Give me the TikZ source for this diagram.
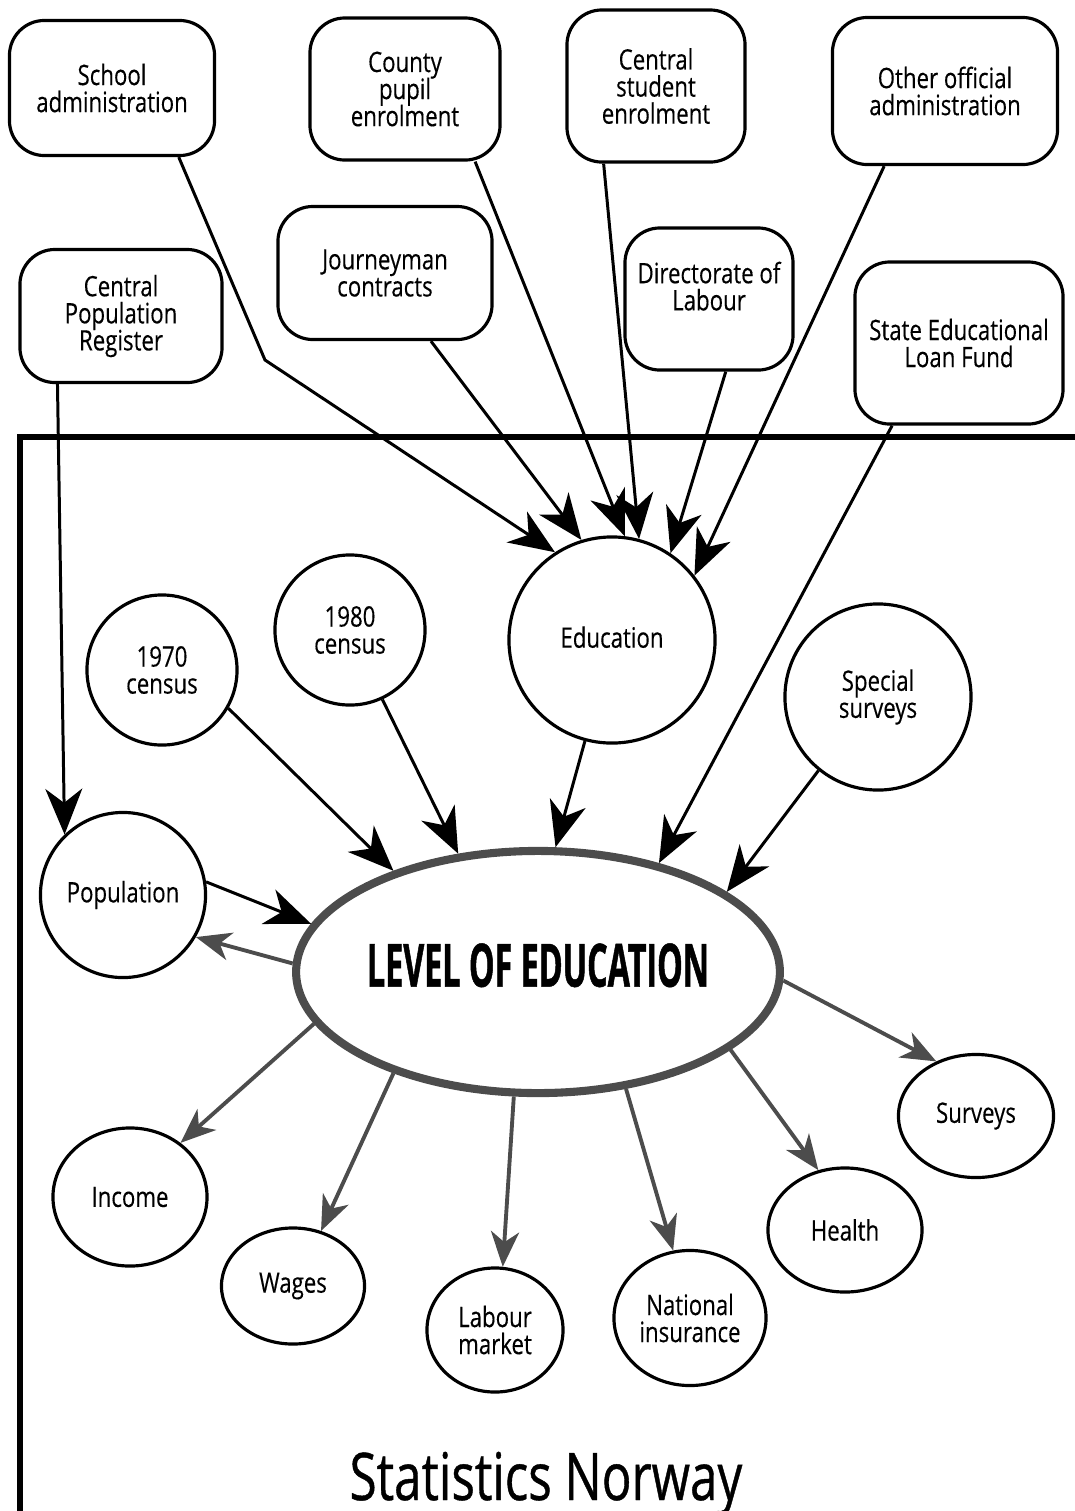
\documentclass[tikz,border=0pt]{standalone}
\usepackage{fontspec}
\usepackage{graphicx}
\setmainfont{Open Sans}
\newfontfamily\labelfont[FakeStretch=0.79, FakeBold=0.3]{Open Sans}
\newfontfamily\headfont[FakeStretch=0.54, FakeBold=0.8]{Open Sans}
\newfontfamily\footfont[FakeStretch=0.75, FakeBold=0.6]{Open Sans}
\usetikzlibrary{positioning, arrows.meta, shapes.geometric}
\lineskiplimit=-10pt

\begin{document}
\begin{tikzpicture}[x=0.01cm, y=-0.01cm, >=Stealth,
    every node/.style={font={\labelfont\fontsize{8}{7.7}\selectfont\lineskiplimit=-10pt\relax}, align=center},
    regbox/.style={draw, line width=0.9pt, rounded corners=0.35cm, inner sep=0pt},
    inbubble/.style={draw, line width=0.9pt, circle, inner sep=0pt},
    outbubble/.style={draw, line width=0.9pt, ellipse, inner sep=0pt},
    feed/.style={->, line width=0.85pt, >={Stealth[length=13pt, width=10.5pt, inset=4pt]}},
    spread/.style={->, line width=1.1pt, black!70, >={Stealth[length=10pt, width=8pt, inset=3pt]}}]
    \useasboundingbox (0,0) rectangle (1075,1511);

    % Registers
    \node[regbox, minimum width=2.05cm, minimum height=1.35cm] (school) at (112,88) {School\\administration};
    \node[regbox, minimum width=1.9cm, minimum height=1.42cm] (county) at (405,89) {County\\pupil\\enrolment};
    \node[regbox, minimum width=1.78cm, minimum height=1.52cm] (student) at (656,86) {Central\\student\\enrolment};
    \node[regbox, minimum width=2.25cm, minimum height=1.47cm] (official) at (945,91) {Other official\\administration};
    \node[regbox, minimum width=2.02cm, minimum height=1.33cm] (cpr) at (121,316) {Central\\Population\\Register};
    \node[regbox, minimum width=2.14cm, minimum height=1.33cm] (journey) at (385,273) {Journeyman\\contracts};
    \node[regbox, minimum width=1.68cm, minimum height=1.42cm, text depth=0.26cm] (labour) at (709,299) {Directorate of\\Labour};
    \node[regbox, minimum width=2.08cm, minimum height=1.62cm] (loan) at (959,343) {State Educational\\Loan Fund};

    % Statistics Norway frame
    \draw[line width=1.7pt] (1075,437) -- (20,437) -- (20,1511);

    % Sources inside
    \node[inbubble, minimum size=1.5cm] (c70) at (162,670) {1970\\census};
    \node[inbubble, minimum size=1.5cm] (c80) at (350,630) {1980\\census};
    \node[inbubble, minimum size=2.06cm] (edu) at (612,640) {\raisebox{0.06cm}{Education}};
    \node[inbubble, minimum size=1.86cm] (special) at (878,697) {Special\\surveys};
    \node[inbubble, minimum size=1.65cm] (pop) at (123,895) {Population};

    % Level of education
    \node[ellipse, draw=black!70, line width=2.3pt, inner sep=0pt, minimum width=4.82cm, minimum height=2.42cm,
      font=\headfont\bfseries\fontsize{17}{17}\selectfont] (level) at (538,972) {\raisebox{0.14cm}{LEVEL OF EDUCATION}};

    % Uses
    \node[outbubble, minimum width=1.54cm, minimum height=1.38cm] (income) at (130,1197) {Income};
    \node[outbubble, minimum width=1.43cm, minimum height=1.16cm] (wages) at (293,1286) {Wages};
    \node[outbubble, minimum width=1.36cm, minimum height=1.24cm] (market) at (495,1330) {Labour\\market};
    \node[outbubble, minimum width=1.52cm, minimum height=1.35cm] (insurance) at (690,1318) {National\\insurance};
    \node[outbubble, minimum width=1.54cm, minimum height=1.24cm] (health) at (845,1230) {Health};
    \node[outbubble, minimum width=1.55cm, minimum height=1.23cm] (surveys) at (976,1116) {Surveys};

    \node[font=\footfont\fontsize{18.7}{20}\selectfont, anchor=base] (org) at (546,1500) {Statistics Norway};

    % Registers into education
    \coordinate (kink) at (265,360);
    \draw[feed] (school.-46) -- (kink) -- (edu.123);
    \draw[feed] (journey.-56) -- (edu.107);
    \draw[feed] (county.-46) -- (edu.83);
    \draw[feed] (student.-124) -- (edu.75);
    \draw[feed] (labour.-77) -- (edu.56);
    \draw[feed] (official.-129) -- (edu.38);

    % Into the level
    \draw[feed] (cpr.-133) -- (pop.134);
    \draw[feed] (loan.-129) -- (level.42);
    \draw[feed] (c70.-30) -- (level.145);
    \draw[feed] (c80.-65) -- (level.124);
    \draw[feed] (edu.-105) -- (level.82);
    \draw[feed] (special.-129) -- (level.23);
    \draw[feed] (pop.9) -- (level.168);

    % Out of the level
    \draw[spread] (level.178) -- (pop.-30);
    \draw[spread] (level.193) -- (income.47);
    \draw[spread] (level.215) -- (wages.63);
    \draw[spread] (level.259) -- (market.83);
    \draw[spread] (level.-53) -- (insurance.104);
    \draw[spread] (level.-22) -- (health.114);
    \draw[spread] (level.-2) -- (surveys.126);
\end{tikzpicture}
\end{document}
